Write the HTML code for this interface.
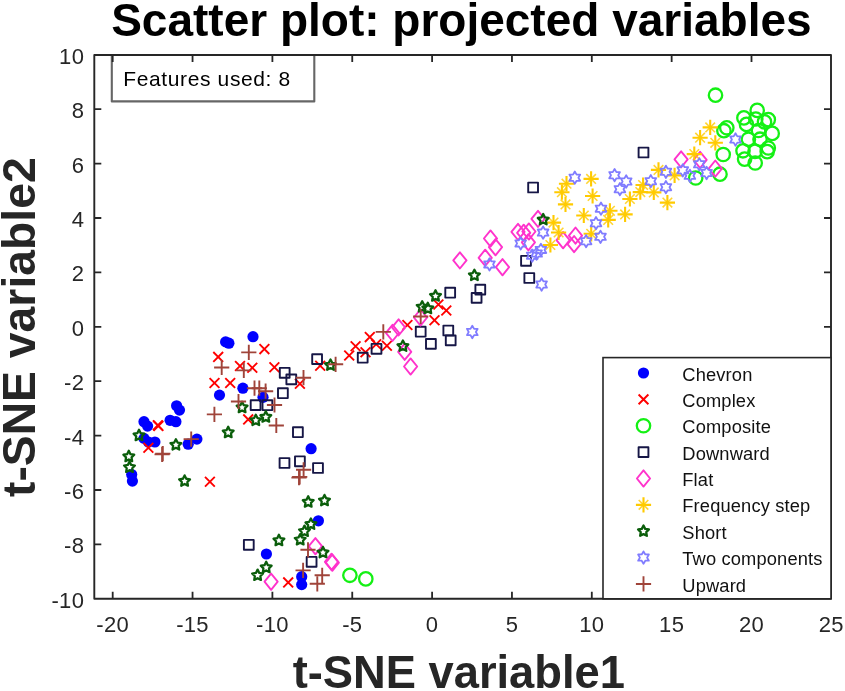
<!DOCTYPE html><html><head><meta charset="utf-8"><style>html,body{margin:0;padding:0;background:#fff;}svg{display:block;filter:blur(0.35px);}text{font-family:"Liberation Sans",sans-serif;}</style></head><body>
<svg width="845" height="691" viewBox="0 0 845 691">
<rect width="845" height="691" fill="#fff"/>
<text x="461.4" y="35.5" text-anchor="middle" font-size="46" font-weight="bold" fill="#000">Scatter plot: projected variables</text>
<rect x="111.8" y="55" width="202.5" height="46.4" fill="#fff" stroke="#666" stroke-width="2.1" stroke-linejoin="round"/>
<text x="123.3" y="86" font-size="21" letter-spacing="0.62" fill="#000">Features used: 8</text>
<g>
<g fill="#0000ff" stroke="none"><circle cx="225.6" cy="341.9" r="5.6"/><circle cx="228.9" cy="343.2" r="5.6"/><circle cx="253" cy="336.7" r="5.6"/><circle cx="242.9" cy="388.2" r="5.6"/><circle cx="219.5" cy="395.1" r="5.6"/><circle cx="263" cy="397.3" r="5.6"/><circle cx="176.6" cy="405.8" r="5.6"/><circle cx="179.5" cy="410.1" r="5.6"/><circle cx="170.1" cy="420.3" r="5.6"/><circle cx="175.9" cy="421.7" r="5.6"/><circle cx="144" cy="421.7" r="5.6"/><circle cx="147.6" cy="426.1" r="5.6"/><circle cx="144" cy="438.4" r="5.6"/><circle cx="148.4" cy="442" r="5.6"/><circle cx="154.9" cy="442" r="5.6"/><circle cx="188.2" cy="444.2" r="5.6"/><circle cx="196.9" cy="439.1" r="5.6"/><circle cx="131.7" cy="474.5" r="5.6"/><circle cx="132.4" cy="481.1" r="5.6"/><circle cx="311.1" cy="448.7" r="5.6"/><circle cx="318.4" cy="520.8" r="5.6"/><circle cx="266.4" cy="554" r="5.6"/><circle cx="301.7" cy="576.7" r="5.6"/><circle cx="301.7" cy="584.6" r="5.6"/></g>
<g fill="none" stroke="#ff0000" stroke-width="1.9"><path d="M213.3 352L223.1 361.8M213.3 361.8L223.1 352"/><path d="M259.5 344.2L269.3 354M259.5 354L269.3 344.2"/><path d="M235.1 361.1L244.9 370.9M235.1 370.9L244.9 361.1"/><path d="M247.4 362.8L257.2 372.6M247.4 372.6L257.2 362.8"/><path d="M269.5 362.4L279.3 372.2M269.5 372.2L279.3 362.4"/><path d="M209.6 378.1L219.4 387.9M209.6 387.9L219.4 378.1"/><path d="M225.3 378.1L235.1 387.9M225.3 387.9L235.1 378.1"/><path d="M152.9 420.4L162.7 430.2M152.9 430.2L162.7 420.4"/><path d="M153.5 421L163.3 430.8M153.5 430.8L163.3 421"/><path d="M143.5 442.9L153.3 452.7M143.5 452.7L153.3 442.9"/><path d="M205 476.9L214.8 486.7M205 486.7L214.8 476.9"/><path d="M243.3 414.5L253.1 424.3M243.3 424.3L253.1 414.5"/><path d="M295 378.9L304.8 388.7M295 388.7L304.8 378.9"/><path d="M315.3 360.8L325.1 370.6M315.3 370.6L325.1 360.8"/><path d="M283.3 577.5L293.1 587.3M283.3 587.3L293.1 577.5"/><path d="M344.3 350.6L354.1 360.4M344.3 360.4L354.1 350.6"/><path d="M350.7 341.4L360.5 351.2M350.7 351.2L360.5 341.4"/><path d="M360.6 347.4L370.4 357.2M360.6 357.2L370.4 347.4"/><path d="M364.9 332.2L374.7 342M364.9 342L374.7 332.2"/><path d="M371.3 339.3L381.1 349.1M371.3 349.1L381.1 339.3"/><path d="M382 340.9L391.8 350.7M382 350.7L391.8 340.9"/><path d="M402.5 320.1L412.3 329.9M402.5 329.9L412.3 320.1"/><path d="M429.6 315.4L439.4 325.2M429.6 325.2L439.4 315.4"/><path d="M433.5 299.6L443.3 309.4M433.5 309.4L443.3 299.6"/><path d="M441.4 305.6L451.2 315.4M441.4 315.4L451.2 305.6"/></g>
<g fill="none" stroke="#14f014" stroke-width="2.3"><circle cx="349.9" cy="575.3" r="6.7"/><circle cx="365.8" cy="578.9" r="6.7"/><circle cx="715.5" cy="95.2" r="6.7"/><circle cx="726.8" cy="127.8" r="6.7"/><circle cx="723.9" cy="130.7" r="6.7"/><circle cx="723.2" cy="154.5" r="6.7"/><circle cx="720" cy="174.2" r="6.7"/><circle cx="695.7" cy="178" r="6.7"/><circle cx="757.2" cy="110.4" r="6.7"/><circle cx="743.9" cy="117.9" r="6.7"/><circle cx="746.5" cy="124.4" r="6.7"/><circle cx="755.8" cy="119" r="6.7"/><circle cx="768.3" cy="119.6" r="6.7"/><circle cx="764.5" cy="121.9" r="6.7"/><circle cx="772.2" cy="133.4" r="6.7"/><circle cx="748.4" cy="139.2" r="6.7"/><circle cx="760" cy="139.2" r="6.7"/><circle cx="768.3" cy="148" r="6.7"/><circle cx="743" cy="150.8" r="6.7"/><circle cx="755" cy="151.4" r="6.7"/><circle cx="744.6" cy="159.1" r="6.7"/><circle cx="755.2" cy="163" r="6.7"/><circle cx="767.2" cy="151.6" r="6.7"/><circle cx="758.5" cy="130.5" r="6.7"/></g>
<g fill="none" stroke="#161646" stroke-width="1.9" stroke-linejoin="round"><rect x="250.7" y="400.2" width="9.8" height="9.8"/><rect x="262.5" y="400.3" width="9.8" height="9.8"/><rect x="279.8" y="367.9" width="9.8" height="9.8"/><rect x="286.4" y="374.5" width="9.8" height="9.8"/><rect x="278" y="388.3" width="9.8" height="9.8"/><rect x="312.2" y="354.2" width="9.8" height="9.8"/><rect x="293" y="427.3" width="9.8" height="9.8"/><rect x="279.6" y="458.1" width="9.8" height="9.8"/><rect x="295" y="456.4" width="9.8" height="9.8"/><rect x="313.1" y="463.1" width="9.8" height="9.8"/><rect x="243.9" y="539.9" width="9.8" height="9.8"/><rect x="306.7" y="556.9" width="9.8" height="9.8"/><rect x="357.8" y="352.8" width="9.8" height="9.8"/><rect x="371.6" y="343.9" width="9.8" height="9.8"/><rect x="415.8" y="326.8" width="9.8" height="9.8"/><rect x="426" y="339" width="9.8" height="9.8"/><rect x="443.4" y="325.6" width="9.8" height="9.8"/><rect x="445.8" y="335.5" width="9.8" height="9.8"/><rect x="445.3" y="287.8" width="9.8" height="9.8"/><rect x="475.4" y="284.7" width="9.8" height="9.8"/><rect x="471.7" y="293" width="9.8" height="9.8"/><rect x="521.1" y="255.9" width="9.8" height="9.8"/><rect x="524.4" y="273.1" width="9.8" height="9.8"/><rect x="528.2" y="182.6" width="9.8" height="9.8"/><rect x="638.6" y="147.6" width="9.8" height="9.8"/></g>
<g fill="none" stroke="#ff33cc" stroke-width="1.9" stroke-linejoin="round"><path d="M271.1 573.6L277.7 581.7L271.1 589.8L264.5 581.7Z"/><path d="M315.4 538.1L322 546.2L315.4 554.3L308.8 546.2Z"/><path d="M331.5 553.7L338.1 561.8L331.5 569.9L324.9 561.8Z"/><path d="M332.3 554.6L338.9 562.7L332.3 570.8L325.7 562.7Z"/><path d="M392.5 324.8L399.1 332.9L392.5 341L385.9 332.9Z"/><path d="M398.6 319.3L405.2 327.4L398.6 335.5L392 327.4Z"/><path d="M420.5 309.4L427.1 317.5L420.5 325.6L413.9 317.5Z"/><path d="M404.7 343.7L411.3 351.8L404.7 359.9L398.1 351.8Z"/><path d="M410.6 358.4L417.2 366.5L410.6 374.6L404 366.5Z"/><path d="M459.9 252.3L466.5 260.4L459.9 268.5L453.3 260.4Z"/><path d="M485.2 249.7L491.8 257.8L485.2 265.9L478.6 257.8Z"/><path d="M490.5 230.4L497.1 238.5L490.5 246.6L483.9 238.5Z"/><path d="M495.5 239.1L502.1 247.2L495.5 255.3L488.9 247.2Z"/><path d="M502.5 259.1L509.1 267.2L502.5 275.3L495.9 267.2Z"/><path d="M518 223.8L524.6 231.9L518 240L511.4 231.9Z"/><path d="M523.7 224.7L530.3 232.8L523.7 240.9L517.1 232.8Z"/><path d="M528.9 223.4L535.5 231.5L528.9 239.6L522.3 231.5Z"/><path d="M538 210.8L544.6 218.9L538 227L531.4 218.9Z"/><path d="M528.4 234.2L535 242.3L528.4 250.4L521.8 242.3Z"/><path d="M563.1 232.1L569.7 240.2L563.1 248.3L556.5 240.2Z"/><path d="M575.5 227.5L582.1 235.6L575.5 243.7L568.9 235.6Z"/><path d="M574.1 236L580.7 244.1L574.1 252.2L567.5 244.1Z"/><path d="M681.1 151.3L687.7 159.4L681.1 167.5L674.5 159.4Z"/><path d="M700.1 151.8L706.7 159.9L700.1 168L693.5 159.9Z"/><path d="M715.3 160.5L721.9 168.6L715.3 176.7L708.7 168.6Z"/></g>
<g fill="none" stroke="#ffca00" stroke-width="2.1"><circle cx="553.5" cy="222.6" r="1.7" fill="#ffca00" stroke="none"/><path d="M545.9 222.6H561.1M553.5 215V230.2"/><path stroke-opacity="0.8" stroke-width="1.6" d="M548.7 217.8L558.3 227.4M548.7 227.4L558.3 217.8"/><circle cx="558.6" cy="232.5" r="1.7" fill="#ffca00" stroke="none"/><path d="M551 232.5H566.2M558.6 224.9V240.1"/><path stroke-opacity="0.8" stroke-width="1.6" d="M553.8 227.7L563.4 237.3M553.8 237.3L563.4 227.7"/><circle cx="550.4" cy="245" r="1.7" fill="#ffca00" stroke="none"/><path d="M542.8 245H558M550.4 237.4V252.6"/><path stroke-opacity="0.8" stroke-width="1.6" d="M545.6 240.2L555.2 249.8M545.6 249.8L555.2 240.2"/><circle cx="565.5" cy="204.4" r="1.7" fill="#ffca00" stroke="none"/><path d="M557.9 204.4H573.1M565.5 196.8V212"/><path stroke-opacity="0.8" stroke-width="1.6" d="M560.7 199.6L570.3 209.2M560.7 209.2L570.3 199.6"/><circle cx="566.5" cy="183.7" r="1.7" fill="#ffca00" stroke="none"/><path d="M558.9 183.7H574.1M566.5 176.1V191.3"/><path stroke-opacity="0.8" stroke-width="1.6" d="M561.7 178.9L571.3 188.5M561.7 188.5L571.3 178.9"/><circle cx="561.9" cy="192.2" r="1.7" fill="#ffca00" stroke="none"/><path d="M554.3 192.2H569.5M561.9 184.6V199.8"/><path stroke-opacity="0.8" stroke-width="1.6" d="M557.1 187.4L566.7 197M557.1 197L566.7 187.4"/><circle cx="591.1" cy="178.9" r="1.7" fill="#ffca00" stroke="none"/><path d="M583.5 178.9H598.7M591.1 171.3V186.5"/><path stroke-opacity="0.8" stroke-width="1.6" d="M586.3 174.1L595.9 183.7M586.3 183.7L595.9 174.1"/><circle cx="592.6" cy="196" r="1.7" fill="#ffca00" stroke="none"/><path d="M585 196H600.2M592.6 188.4V203.6"/><path stroke-opacity="0.8" stroke-width="1.6" d="M587.8 191.2L597.4 200.8M587.8 200.8L597.4 191.2"/><circle cx="583.8" cy="215.5" r="1.7" fill="#ffca00" stroke="none"/><path d="M576.2 215.5H591.4M583.8 207.9V223.1"/><path stroke-opacity="0.8" stroke-width="1.6" d="M579 210.7L588.6 220.3M579 220.3L588.6 210.7"/><circle cx="609.9" cy="210.8" r="1.7" fill="#ffca00" stroke="none"/><path d="M602.3 210.8H617.5M609.9 203.2V218.4"/><path stroke-opacity="0.8" stroke-width="1.6" d="M605.1 206L614.7 215.6M605.1 215.6L614.7 206"/><circle cx="608.2" cy="219.9" r="1.7" fill="#ffca00" stroke="none"/><path d="M600.6 219.9H615.8M608.2 212.3V227.5"/><path stroke-opacity="0.8" stroke-width="1.6" d="M603.4 215.1L613 224.7M603.4 224.7L613 215.1"/><circle cx="625.1" cy="214.4" r="1.7" fill="#ffca00" stroke="none"/><path d="M617.5 214.4H632.7M625.1 206.8V222"/><path stroke-opacity="0.8" stroke-width="1.6" d="M620.3 209.6L629.9 219.2M620.3 219.2L629.9 209.6"/><circle cx="629.9" cy="199" r="1.7" fill="#ffca00" stroke="none"/><path d="M622.3 199H637.5M629.9 191.4V206.6"/><path stroke-opacity="0.8" stroke-width="1.6" d="M625.1 194.2L634.7 203.8M625.1 203.8L634.7 194.2"/><circle cx="640.3" cy="192.1" r="1.7" fill="#ffca00" stroke="none"/><path d="M632.7 192.1H647.9M640.3 184.5V199.7"/><path stroke-opacity="0.8" stroke-width="1.6" d="M635.5 187.3L645.1 196.9M635.5 196.9L645.1 187.3"/><circle cx="643.1" cy="185" r="1.7" fill="#ffca00" stroke="none"/><path d="M635.5 185H650.7M643.1 177.4V192.6"/><path stroke-opacity="0.8" stroke-width="1.6" d="M638.3 180.2L647.9 189.8M638.3 189.8L647.9 180.2"/><circle cx="653.8" cy="192.4" r="1.7" fill="#ffca00" stroke="none"/><path d="M646.2 192.4H661.4M653.8 184.8V200"/><path stroke-opacity="0.8" stroke-width="1.6" d="M649 187.6L658.6 197.2M649 197.2L658.6 187.6"/><circle cx="658.5" cy="169.9" r="1.7" fill="#ffca00" stroke="none"/><path d="M650.9 169.9H666.1M658.5 162.3V177.5"/><path stroke-opacity="0.8" stroke-width="1.6" d="M653.7 165.1L663.3 174.7M653.7 174.7L663.3 165.1"/><circle cx="591.2" cy="233.8" r="1.7" fill="#ffca00" stroke="none"/><path d="M583.6 233.8H598.8M591.2 226.2V241.4"/><path stroke-opacity="0.8" stroke-width="1.6" d="M586.4 229L596 238.6M586.4 238.6L596 229"/><circle cx="710.2" cy="127.4" r="1.7" fill="#ffca00" stroke="none"/><path d="M702.6 127.4H717.8M710.2 119.8V135"/><path stroke-opacity="0.8" stroke-width="1.6" d="M705.4 122.6L715 132.2M705.4 132.2L715 122.6"/><circle cx="700.1" cy="137.7" r="1.7" fill="#ffca00" stroke="none"/><path d="M692.5 137.7H707.7M700.1 130.1V145.3"/><path stroke-opacity="0.8" stroke-width="1.6" d="M695.3 132.9L704.9 142.5M695.3 142.5L704.9 132.9"/><circle cx="715.3" cy="142.8" r="1.7" fill="#ffca00" stroke="none"/><path d="M707.7 142.8H722.9M715.3 135.2V150.4"/><path stroke-opacity="0.8" stroke-width="1.6" d="M710.5 138L720.1 147.6M710.5 147.6L720.1 138"/><circle cx="694.3" cy="154.1" r="1.7" fill="#ffca00" stroke="none"/><path d="M686.7 154.1H701.9M694.3 146.5V161.7"/><path stroke-opacity="0.8" stroke-width="1.6" d="M689.5 149.3L699.1 158.9M689.5 158.9L699.1 149.3"/><circle cx="674.6" cy="175.4" r="1.7" fill="#ffca00" stroke="none"/><path d="M667 175.4H682.2M674.6 167.8V183"/><path stroke-opacity="0.8" stroke-width="1.6" d="M669.8 170.6L679.4 180.2M669.8 180.2L679.4 170.6"/><circle cx="667.4" cy="202.6" r="1.7" fill="#ffca00" stroke="none"/><path d="M659.8 202.6H675M667.4 195V210.2"/><path stroke-opacity="0.8" stroke-width="1.6" d="M662.6 197.8L672.2 207.4M662.6 207.4L672.2 197.8"/></g>
<g fill="none" stroke="#0b5e0b" stroke-width="2.3" stroke-linejoin="round"><polygon points="242.1,401.8 243.8,405.15 247.52,405.74 244.86,408.4 245.45,412.11 242.1,410.4 238.75,412.11 239.34,408.4 236.68,405.74 240.4,405.15"/><polygon points="255.8,414.7 257.5,418.05 261.22,418.64 258.56,421.3 259.15,425.01 255.8,423.3 252.45,425.01 253.04,421.3 250.38,418.64 254.1,418.05"/><polygon points="265.8,411.3 267.5,414.65 271.22,415.24 268.56,417.9 269.15,421.61 265.8,419.9 262.45,421.61 263.04,417.9 260.38,415.24 264.1,414.65"/><polygon points="228.2,426.8 229.9,430.15 233.62,430.74 230.96,433.4 231.55,437.11 228.2,435.4 224.85,437.11 225.44,433.4 222.78,430.74 226.5,430.15"/><polygon points="139,429.8 140.7,433.15 144.42,433.74 141.76,436.4 142.35,440.11 139,438.4 135.65,440.11 136.24,436.4 133.58,433.74 137.3,433.15"/><polygon points="175.9,439.2 177.6,442.55 181.32,443.14 178.66,445.8 179.25,449.51 175.9,447.8 172.55,449.51 173.14,445.8 170.48,443.14 174.2,442.55"/><polygon points="128.8,450.8 130.5,454.15 134.22,454.74 131.56,457.4 132.15,461.11 128.8,459.4 125.45,461.11 126.04,457.4 123.38,454.74 127.1,454.15"/><polygon points="129.5,461.6 131.2,464.95 134.92,465.54 132.26,468.2 132.85,471.91 129.5,470.2 126.15,471.91 126.74,468.2 124.08,465.54 127.8,464.95"/><polygon points="184.6,475.4 186.3,478.75 190.02,479.34 187.36,482 187.95,485.71 184.6,484 181.25,485.71 181.84,482 179.18,479.34 182.9,478.75"/><polygon points="308.2,496.3 309.9,499.65 313.62,500.24 310.96,502.9 311.55,506.61 308.2,504.9 304.85,506.61 305.44,502.9 302.78,500.24 306.5,499.65"/><polygon points="324.5,494.9 326.2,498.25 329.92,498.84 327.26,501.5 327.85,505.21 324.5,503.5 321.15,505.21 321.74,501.5 319.08,498.84 322.8,498.25"/><polygon points="310.9,518.5 312.6,521.85 316.32,522.44 313.66,525.1 314.25,528.81 310.9,527.1 307.55,528.81 308.14,525.1 305.48,522.44 309.2,521.85"/><polygon points="304.5,525.6 306.2,528.95 309.92,529.54 307.26,532.2 307.85,535.91 304.5,534.2 301.15,535.91 301.74,532.2 299.08,529.54 302.8,528.95"/><polygon points="300.2,534.1 301.9,537.45 305.62,538.04 302.96,540.7 303.55,544.41 300.2,542.7 296.85,544.41 297.44,540.7 294.78,538.04 298.5,537.45"/><polygon points="278.9,534.8 280.6,538.15 284.32,538.74 281.66,541.4 282.25,545.11 278.9,543.4 275.55,545.11 276.14,541.4 273.48,538.74 277.2,538.15"/><polygon points="323,546.9 324.7,550.25 328.42,550.84 325.76,553.5 326.35,557.21 323,555.5 319.65,557.21 320.24,553.5 317.58,550.84 321.3,550.25"/><polygon points="266.2,561.8 267.9,565.15 271.62,565.74 268.96,568.4 269.55,572.11 266.2,570.4 262.85,572.11 263.44,568.4 260.78,565.74 264.5,565.15"/><polygon points="257.6,569.6 259.3,572.95 263.02,573.54 260.36,576.2 260.95,579.91 257.6,578.2 254.25,579.91 254.84,576.2 252.18,573.54 255.9,572.95"/><polygon points="330.5,359.5 332.2,362.85 335.92,363.44 333.26,366.1 333.85,369.81 330.5,368.1 327.15,369.81 327.74,366.1 325.08,363.44 328.8,362.85"/><polygon points="402.9,340.5 404.6,343.85 408.32,344.44 405.66,347.1 406.25,350.81 402.9,349.1 399.55,350.81 400.14,347.1 397.48,344.44 401.2,343.85"/><polygon points="422.2,301.2 423.9,304.55 427.62,305.14 424.96,307.8 425.55,311.51 422.2,309.8 418.85,311.51 419.44,307.8 416.78,305.14 420.5,304.55"/><polygon points="427.8,302.8 429.5,306.15 433.22,306.74 430.56,309.4 431.15,313.11 427.8,311.4 424.45,313.11 425.04,309.4 422.38,306.74 426.1,306.15"/><polygon points="435.5,290.3 437.2,293.65 440.92,294.24 438.26,296.9 438.85,300.61 435.5,298.9 432.15,300.61 432.74,296.9 430.08,294.24 433.8,293.65"/><polygon points="474.4,269.7 476.1,273.05 479.82,273.64 477.16,276.3 477.75,280.01 474.4,278.3 471.05,280.01 471.64,276.3 468.98,273.64 472.7,273.05"/><polygon points="543.2,214 544.9,217.35 548.62,217.94 545.96,220.6 546.55,224.31 543.2,222.6 539.85,224.31 540.44,220.6 537.78,217.94 541.5,217.35"/></g>
<g fill="none" stroke="#807cff" stroke-width="1.8" stroke-linejoin="round"><polygon points="472.3,325.8 474.1,328.88 477.67,328.9 475.9,332 477.67,335.1 474.1,335.12 472.3,338.2 470.5,335.12 466.93,335.1 468.7,332 466.93,328.9 470.5,328.88"/><polygon points="489.5,258.2 491.3,261.28 494.87,261.3 493.1,264.4 494.87,267.5 491.3,267.52 489.5,270.6 487.7,267.52 484.13,267.5 485.9,264.4 484.13,261.3 487.7,261.28"/><polygon points="520.7,237.2 522.5,240.28 526.07,240.3 524.3,243.4 526.07,246.5 522.5,246.52 520.7,249.6 518.9,246.52 515.33,246.5 517.1,243.4 515.33,240.3 518.9,240.28"/><polygon points="543.1,226.4 544.9,229.48 548.47,229.5 546.7,232.6 548.47,235.7 544.9,235.72 543.1,238.8 541.3,235.72 537.73,235.7 539.5,232.6 537.73,229.5 541.3,229.48"/><polygon points="536.6,247.3 538.4,250.38 541.97,250.4 540.2,253.5 541.97,256.6 538.4,256.62 536.6,259.7 534.8,256.62 531.23,256.6 533,253.5 531.23,250.4 534.8,250.38"/><polygon points="540.9,243.7 542.7,246.78 546.27,246.8 544.5,249.9 546.27,253 542.7,253.02 540.9,256.1 539.1,253.02 535.53,253 537.3,249.9 535.53,246.8 539.1,246.78"/><polygon points="532.2,249.5 534,252.58 537.57,252.6 535.8,255.7 537.57,258.8 534,258.82 532.2,261.9 530.4,258.82 526.83,258.8 528.6,255.7 526.83,252.6 530.4,252.58"/><polygon points="541.6,278.3 543.4,281.38 546.97,281.4 545.2,284.5 546.97,287.6 543.4,287.62 541.6,290.7 539.8,287.62 536.23,287.6 538,284.5 536.23,281.4 539.8,281.38"/><polygon points="574.8,171.5 576.6,174.58 580.17,174.6 578.4,177.7 580.17,180.8 576.6,180.82 574.8,183.9 573,180.82 569.43,180.8 571.2,177.7 569.43,174.6 573,174.58"/><polygon points="614.6,169 616.4,172.08 619.97,172.1 618.2,175.2 619.97,178.3 616.4,178.32 614.6,181.4 612.8,178.32 609.23,178.3 611,175.2 609.23,172.1 612.8,172.08"/><polygon points="626.2,175.3 628,178.38 631.57,178.4 629.8,181.5 631.57,184.6 628,184.62 626.2,187.7 624.4,184.62 620.83,184.6 622.6,181.5 620.83,178.4 624.4,178.38"/><polygon points="619.9,183 621.7,186.08 625.27,186.1 623.5,189.2 625.27,192.3 621.7,192.32 619.9,195.4 618.1,192.32 614.53,192.3 616.3,189.2 614.53,186.1 618.1,186.08"/><polygon points="601,202.5 602.8,205.58 606.37,205.6 604.6,208.7 606.37,211.8 602.8,211.82 601,214.9 599.2,211.82 595.63,211.8 597.4,208.7 595.63,205.6 599.2,205.58"/><polygon points="596,217 597.8,220.08 601.37,220.1 599.6,223.2 601.37,226.3 597.8,226.32 596,229.4 594.2,226.32 590.63,226.3 592.4,223.2 590.63,220.1 594.2,220.08"/><polygon points="600.5,230.6 602.3,233.68 605.87,233.7 604.1,236.8 605.87,239.9 602.3,239.92 600.5,243 598.7,239.92 595.13,239.9 596.9,236.8 595.13,233.7 598.7,233.68"/><polygon points="586.1,235 587.9,238.08 591.47,238.1 589.7,241.2 591.47,244.3 587.9,244.32 586.1,247.4 584.3,244.32 580.73,244.3 582.5,241.2 580.73,238.1 584.3,238.08"/><polygon points="650.8,175 652.6,178.08 656.17,178.1 654.4,181.2 656.17,184.3 652.6,184.32 650.8,187.4 649,184.32 645.43,184.3 647.2,181.2 645.43,178.1 649,178.08"/><polygon points="665.9,165.6 667.7,168.68 671.27,168.7 669.5,171.8 671.27,174.9 667.7,174.92 665.9,178 664.1,174.92 660.53,174.9 662.3,171.8 660.53,168.7 664.1,168.68"/><polygon points="665.9,181 667.7,184.08 671.27,184.1 669.5,187.2 671.27,190.3 667.7,190.32 665.9,193.4 664.1,190.32 660.53,190.3 662.3,187.2 660.53,184.1 664.1,184.08"/><polygon points="682.8,164.1 684.6,167.18 688.17,167.2 686.4,170.3 688.17,173.4 684.6,173.42 682.8,176.5 681,173.42 677.43,173.4 679.2,170.3 677.43,167.2 681,167.18"/><polygon points="689.9,169.6 691.7,172.68 695.27,172.7 693.5,175.8 695.27,178.9 691.7,178.92 689.9,182 688.1,178.92 684.53,178.9 686.3,175.8 684.53,172.7 688.1,172.68"/><polygon points="699.3,158.1 701.1,161.18 704.67,161.2 702.9,164.3 704.67,167.4 701.1,167.42 699.3,170.5 697.5,167.42 693.93,167.4 695.7,164.3 693.93,161.2 697.5,161.18"/><polygon points="706.6,166.8 708.4,169.88 711.97,169.9 710.2,173 711.97,176.1 708.4,176.12 706.6,179.2 704.8,176.12 701.23,176.1 703,173 701.23,169.9 704.8,169.88"/><polygon points="735.5,133.3 737.3,136.38 740.87,136.4 739.1,139.5 740.87,142.6 737.3,142.62 735.5,145.7 733.7,142.62 730.13,142.6 731.9,139.5 730.13,136.4 733.7,136.38"/></g>
<g fill="none" stroke="#a0443a" stroke-width="1.9"><path d="M241.2 352.4H256.4M248.8 344.8V360"/><path d="M214.1 367.5H229.3M221.7 359.9V375.1"/><path d="M236.2 370.4H251.4M243.8 362.8V378"/><path d="M246.9 388.2H262.1M254.5 380.6V395.8"/><path d="M251.7 388.2H266.9M259.3 380.6V395.8"/><path d="M258 391.2H273.2M265.6 383.6V398.8"/><path d="M230.9 401.5H246.1M238.5 393.9V409.1"/><path d="M266.9 405H282.1M274.5 397.4V412.6"/><path d="M206.8 414.4H222M214.4 406.8V422"/><path d="M268.7 425.5H283.9M276.3 417.9V433.1"/><path d="M183.6 439.1H198.8M191.2 431.5V446.7"/><path d="M155.2 453.6H170.4M162.8 446V461.2"/><path d="M154.5 454.4H169.7M162.1 446.8V462"/><path d="M295.9 377.7H311.1M303.5 370.1V385.3"/><path d="M328 364.3H343.2M335.6 356.7V371.9"/><path d="M375.7 331.9H390.9M383.3 324.3V339.5"/><path d="M413.1 316.5H428.3M420.7 308.9V324.1"/><path d="M296 469.8H311.2M303.6 462.2V477.4"/><path d="M291.4 477.6H306.6M299 470V485.2"/><path d="M292.1 476.9H307.3M299.7 469.3V484.5"/><path d="M300.4 549.8H315.6M308 542.2V557.4"/><path d="M295.5 570.4H310.7M303.1 562.8V578"/><path d="M314.6 575.3H329.8M322.2 567.7V582.9"/><path d="M309.7 583.8H324.9M317.3 576.2V591.4"/></g>
</g>
<rect x="94.3" y="55" width="736.7" height="543.8" fill="none" stroke="#262626" stroke-width="1.9" stroke-linejoin="round"/>
<path d="M112.7 598.8V591.8M112.7 55V62M192.55 598.8V591.8M192.55 55V62M272.4 598.8V591.8M272.4 55V62M352.25 598.8V591.8M352.25 55V62M432.1 598.8V591.8M432.1 55V62M511.95 598.8V591.8M511.95 55V62M591.8 598.8V591.8M591.8 55V62M671.65 598.8V591.8M671.65 55V62M751.5 598.8V591.8M751.5 55V62M94.3 544.4H101.3M831 544.4H824M94.3 490H101.3M831 490H824M94.3 435.6H101.3M831 435.6H824M94.3 381.2H101.3M831 381.2H824M94.3 326.8H101.3M831 326.8H824M94.3 272.4H101.3M831 272.4H824M94.3 218H101.3M831 218H824M94.3 163.6H101.3M831 163.6H824M94.3 109.2H101.3M831 109.2H824" stroke="#262626" stroke-width="1.8" fill="none"/>
<text x="112.7" y="632.2" text-anchor="middle" font-size="22" letter-spacing="0.3" fill="#262626">-20</text>
<text x="192.55" y="632.2" text-anchor="middle" font-size="22" letter-spacing="0.3" fill="#262626">-15</text>
<text x="272.4" y="632.2" text-anchor="middle" font-size="22" letter-spacing="0.3" fill="#262626">-10</text>
<text x="352.25" y="632.2" text-anchor="middle" font-size="22" letter-spacing="0.3" fill="#262626">-5</text>
<text x="432.1" y="632.2" text-anchor="middle" font-size="22" letter-spacing="0.3" fill="#262626">0</text>
<text x="511.95" y="632.2" text-anchor="middle" font-size="22" letter-spacing="0.3" fill="#262626">5</text>
<text x="591.8" y="632.2" text-anchor="middle" font-size="22" letter-spacing="0.3" fill="#262626">10</text>
<text x="671.65" y="632.2" text-anchor="middle" font-size="22" letter-spacing="0.3" fill="#262626">15</text>
<text x="751.5" y="632.2" text-anchor="middle" font-size="22" letter-spacing="0.3" fill="#262626">20</text>
<text x="831.35" y="632.2" text-anchor="middle" font-size="22" letter-spacing="0.3" fill="#262626">25</text>
<text x="84.2" y="607.7" text-anchor="end" font-size="22" letter-spacing="0.3" fill="#262626">-10</text>
<text x="84.2" y="553.3" text-anchor="end" font-size="22" letter-spacing="0.3" fill="#262626">-8</text>
<text x="84.2" y="498.9" text-anchor="end" font-size="22" letter-spacing="0.3" fill="#262626">-6</text>
<text x="84.2" y="444.5" text-anchor="end" font-size="22" letter-spacing="0.3" fill="#262626">-4</text>
<text x="84.2" y="390.1" text-anchor="end" font-size="22" letter-spacing="0.3" fill="#262626">-2</text>
<text x="84.2" y="335.7" text-anchor="end" font-size="22" letter-spacing="0.3" fill="#262626">0</text>
<text x="84.2" y="281.3" text-anchor="end" font-size="22" letter-spacing="0.3" fill="#262626">2</text>
<text x="84.2" y="226.9" text-anchor="end" font-size="22" letter-spacing="0.3" fill="#262626">4</text>
<text x="84.2" y="172.5" text-anchor="end" font-size="22" letter-spacing="0.3" fill="#262626">6</text>
<text x="84.2" y="118.1" text-anchor="end" font-size="22" letter-spacing="0.3" fill="#262626">8</text>
<text x="84.2" y="63.7" text-anchor="end" font-size="22" letter-spacing="0.3" fill="#262626">10</text>
<text x="458.8" y="688.4" text-anchor="middle" font-size="45.3" font-weight="bold" fill="#262626">t-SNE variable1</text>
<text transform="translate(35.4 327.2) rotate(-90)" text-anchor="middle" font-size="46.3" font-weight="bold" fill="#262626">t-SNE variable2</text>
<rect x="603" y="357.6" width="228" height="241.2" fill="#fff" stroke="#262626" stroke-width="1.6"/>
<g fill="#0000ff" stroke="none"><circle cx="643.5" cy="373" r="5.6"/></g>
<text x="682.3" y="380.6" font-size="18.3" letter-spacing="0.15" fill="#111">Chevron</text>
<g fill="none" stroke="#ff0000" stroke-width="1.9"><path d="M638.6 394.47L648.4 404.27M638.6 404.27L648.4 394.47"/></g>
<text x="682.3" y="406.97" font-size="18.3" letter-spacing="0.15" fill="#111">Complex</text>
<g fill="none" stroke="#14f014" stroke-width="2.3"><circle cx="643.5" cy="425.74" r="6.7"/></g>
<text x="682.3" y="433.34" font-size="18.3" letter-spacing="0.15" fill="#111">Composite</text>
<g fill="none" stroke="#161646" stroke-width="1.9" stroke-linejoin="round"><rect x="638.6" y="447.21" width="9.8" height="9.8"/></g>
<text x="682.3" y="459.71" font-size="18.3" letter-spacing="0.15" fill="#111">Downward</text>
<g fill="none" stroke="#ff33cc" stroke-width="1.9" stroke-linejoin="round"><path d="M643.5 470.38L650.1 478.48L643.5 486.58L636.9 478.48Z"/></g>
<text x="682.3" y="486.08" font-size="18.3" letter-spacing="0.15" fill="#111">Flat</text>
<g fill="none" stroke="#ffca00" stroke-width="2.1"><circle cx="643.5" cy="504.85" r="1.7" fill="#ffca00" stroke="none"/><path d="M635.9 504.85H651.1M643.5 497.25V512.45"/><path stroke-opacity="0.8" stroke-width="1.6" d="M638.7 500.05L648.3 509.65M638.7 509.65L648.3 500.05"/></g>
<text x="682.3" y="512.45" font-size="18.3" letter-spacing="0.15" fill="#111">Frequency step</text>
<g fill="none" stroke="#0b5e0b" stroke-width="2.3" stroke-linejoin="round"><polygon points="643.5,525.52 645.2,528.87 648.92,529.46 646.26,532.12 646.85,535.83 643.5,534.12 640.15,535.83 640.74,532.12 638.08,529.46 641.8,528.87"/></g>
<text x="682.3" y="538.82" font-size="18.3" letter-spacing="0.15" fill="#111">Short</text>
<g fill="none" stroke="#807cff" stroke-width="1.8" stroke-linejoin="round"><polygon points="643.5,551.39 645.3,554.47 648.87,554.49 647.1,557.59 648.87,560.69 645.3,560.71 643.5,563.79 641.7,560.71 638.13,560.69 639.9,557.59 638.13,554.49 641.7,554.47"/></g>
<text x="682.3" y="565.19" font-size="18.3" letter-spacing="0.15" fill="#111">Two components</text>
<g fill="none" stroke="#a0443a" stroke-width="1.9"><path d="M635.9 583.96H651.1M643.5 576.36V591.56"/></g>
<text x="682.3" y="591.56" font-size="18.3" letter-spacing="0.15" fill="#111">Upward</text>
</svg></body></html>
